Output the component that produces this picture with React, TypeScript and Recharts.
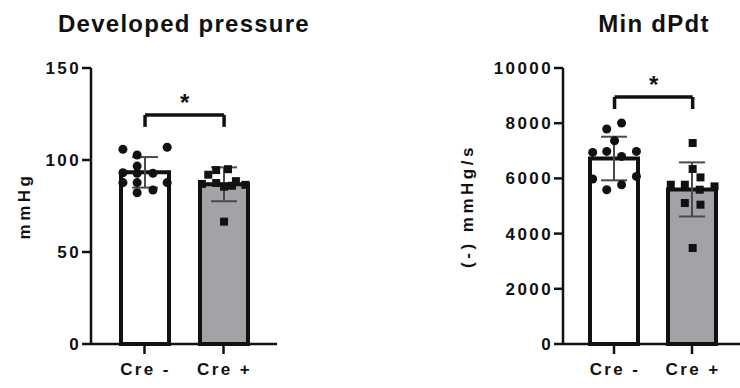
// Two-panel bar + dot plot: developed pressure and min dP/dt, Cre - vs Cre +.
import {
  ComposedChart,
  Bar,
  Cell,
  ErrorBar,
  Scatter,
  XAxis,
  YAxis,
  ReferenceLine,
  ReferenceDot,
} from "recharts";

const GROUPS = ["Cre -", "Cre +"];
const GROUP_X = [1, 2];

// Developed pressure (mmHg)
const DP_MEAN = [93.3, 86.8];
const DP_SD = [8.3, 9.2];
const DP_NEG = [105.8, 106.9, 102.7, 96.7, 93.1, 92.8, 92.8, 87.7, 87.7, 87.7, 82.2, 83.7];
const DP_NEG_JITTER = [-0.28, 0.28, -0.1, -0.1, -0.28, -0.1, 0.1, -0.28, -0.1, 0.28, -0.1, 0.1];
const DP_POS = [95, 94.5, 92, 87, 86.5, 87.5, 86, 85.5, 88.5, 66.5];
const DP_POS_JITTER = [0.05, -0.1, -0.2, -0.28, 0.27, -0.1, 0.1, 0, 0.15, 0];
const DP_TICKS = [0, 50, 100, 150];
const DP_BRACKET = [124.5, 118];

// Min dP/dt ((-) mmHg/s)
const MD_MEAN = [6720, 5600];
const MD_SD = [790, 980];
const MD_NEG = [8007, 7790, 7366, 6942, 6978, 6797, 6978, 5978, 6072, 5772, 5591];
const MD_NEG_JITTER = [0.09, -0.1, 0, -0.28, -0.1, 0.09, 0.28, -0.28, 0.28, 0.09, -0.1];
const MD_POS = [7283, 6340, 6036, 5772, 5772, 5591, 5710, 5109, 5047, 3478];
const MD_POS_JITTER = [0, 0, 0.1, -0.28, -0.1, 0.09, 0.28, -0.1, 0.1, 0];
const MD_TICKS = [0, 2000, 4000, 6000, 8000, 10000];
const MD_BRACKET = [8949, 8514];

const FONT = "'Liberation Sans', Arial, sans-serif";
const INK = "#111";
const BAR_FILLS = ["#ffffff", "#a3a3a7"];
const TEXT_STYLE = { fontFamily: FONT, fontSize: 17, fontWeight: 700, fill: INK, letterSpacing: 2.4 };

// Custom ticks so the wide letter spacing of the original survives
function YTick({ x, y, payload }: { x: number; y: number; payload: { value: number } }) {
  return (
    <text x={x + 2} y={y} dy={6} textAnchor="end" style={TEXT_STYLE}>
      {payload.value}
    </text>
  );
}

function XTick({ x, y, payload }: { x: number; y: number; payload: { value: string } }) {
  return (
    <text x={x + 1} y={y} dy={16} textAnchor="middle" style={TEXT_STYLE}>
      {payload.value}
    </text>
  );
}

interface PanelProps {
  title: string;
  yLabel: string;
  left: number;
  width: number;
  yAxisWidth: number;
  labelDx: number;
  pad: { left: number; right: number };
  xDomain: [number, number];
  yTicks: number[];
  means: number[];
  sds: number[];
  neg: number[];
  negJitter: number[];
  pos: number[];
  posJitter: number[];
  bracket: number[];
}

function Panel(p: PanelProps) {
  const bars = GROUPS.map((name, i) => ({ name, mean: p.means[i], sd: p.sds[i] }));
  const negPts = p.neg.map((v, i) => ({ x: GROUP_X[0] + p.negJitter[i], value: v }));
  const posPts = p.pos.map((v, i) => ({ x: GROUP_X[1] + p.posJitter[i], value: v }));
  const yMax = p.yTicks[p.yTicks.length - 1];
  const plotRight = 23;
  const plotCenter = p.yAxisWidth + (p.width - p.yAxisWidth - plotRight) / 2;
  const [hi, lo] = p.bracket;
  const mid = (GROUP_X[0] + GROUP_X[1]) / 2;
  const bracketLine = { xAxisId: "num", stroke: INK, strokeWidth: 3.5, ifOverflow: "visible" as const };

  return (
    <div style={{ position: "absolute", left: p.left, top: 0, width: p.width, height: 388 }}>
      <div
        style={{
          position: "absolute",
          top: 12,
          left: plotCenter - 150,
          width: 300,
          textAlign: "center",
          fontFamily: FONT,
          fontWeight: 700,
          fontSize: 24,
          lineHeight: "24px",
          letterSpacing: 1.25,
          color: INK,
        }}
      >
        {p.title}
      </div>
      <ComposedChart
        width={p.width}
        height={388}
        data={bars}
        margin={{ top: 68, right: plotRight, bottom: 14, left: 0 }}
      >
        <XAxis
          dataKey="name"
          type="category"
          padding={p.pad}
          interval={0}
          height={30}
          tick={XTick}
          tickSize={10}
          tickMargin={5}
          axisLine={{ stroke: INK, strokeWidth: 2.5 }}
          tickLine={{ stroke: INK, strokeWidth: 2.5 }}
        />
        <XAxis xAxisId="num" dataKey="x" type="number" domain={p.xDomain} allowDataOverflow hide />
        <YAxis
          type="number"
          domain={[0, yMax]}
          ticks={p.yTicks}
          interval={0}
          width={p.yAxisWidth}
          tick={YTick}
          tickSize={9}
          tickMargin={3}
          axisLine={{ stroke: INK, strokeWidth: 2.5 }}
          tickLine={{ stroke: INK, strokeWidth: 2.5 }}
          label={{
            value: p.yLabel,
            angle: -90,
            position: "center",
            dx: p.labelDx,
            style: { fontFamily: FONT, fontSize: 17, fontWeight: 700, fill: INK, letterSpacing: 3.5 },
          }}
        />
        <Bar
          dataKey="mean"
          barSize={48}
          stroke={INK}
          strokeWidth={4}
          isAnimationActive={false}
        >
          {bars.map((_, i) => (
            <Cell key={i} fill={BAR_FILLS[i]} />
          ))}
          <ErrorBar dataKey="sd" width={13} stroke="#4a4a4a" strokeWidth={2} direction="y" />
        </Bar>
        <Scatter xAxisId="num" data={negPts} dataKey="value" fill={INK} shape="circle" isAnimationActive={false} />
        <Scatter xAxisId="num" data={posPts} dataKey="value" fill={INK} shape="square" isAnimationActive={false} />
        <ReferenceLine segment={[{ x: GROUP_X[0], y: hi }, { x: GROUP_X[1], y: hi }]} {...bracketLine} />
        <ReferenceLine segment={[{ x: GROUP_X[0], y: hi }, { x: GROUP_X[0], y: lo }]} {...bracketLine} />
        <ReferenceLine segment={[{ x: GROUP_X[1], y: hi }, { x: GROUP_X[1], y: lo }]} {...bracketLine} />
        <ReferenceDot
          xAxisId="num"
          x={mid}
          y={hi}
          r={1}
          fill="none"
          stroke="none"
          ifOverflow="visible"
          label={{
            value: "*",
            position: "top",
            offset: 3,
            style: { fontFamily: FONT, fontSize: 24, fontWeight: 700, fill: INK },
          }}
        />
      </ComposedChart>
    </div>
  );
}

export default function App() {
  return (
    <div
      style={{
        position: "absolute",
        left: 0,
        top: 0,
        width: 740,
        height: 388,
        overflow: "hidden",
        background: "#fff",
      }}
    >
      <Panel
        title="Developed pressure"
        yLabel="mmHg"
        left={0}
        width={300}
        yAxisWidth={91}
        labelDx={-21.5}
        pad={{ left: 14, right: 14 }}
        xDomain={[0.316, 2.67]}
        yTicks={DP_TICKS}
        means={DP_MEAN}
        sds={DP_SD}
        neg={DP_NEG}
        negJitter={DP_NEG_JITTER}
        pos={DP_POS}
        posJitter={DP_POS_JITTER}
        bracket={DP_BRACKET}
      />
      <Panel
        title="Min dPdt"
        yLabel="(-) mmHg/s"
        left={440}
        width={328}
        yAxisWidth={123}
        labelDx={-34.5}
        pad={{ left: 12, right: 14 }}
        xDomain={[0.34, 2.67]}
        yTicks={MD_TICKS}
        means={MD_MEAN}
        sds={MD_SD}
        neg={MD_NEG}
        negJitter={MD_NEG_JITTER}
        pos={MD_POS}
        posJitter={MD_POS_JITTER}
        bracket={MD_BRACKET}
      />
    </div>
  );
}
